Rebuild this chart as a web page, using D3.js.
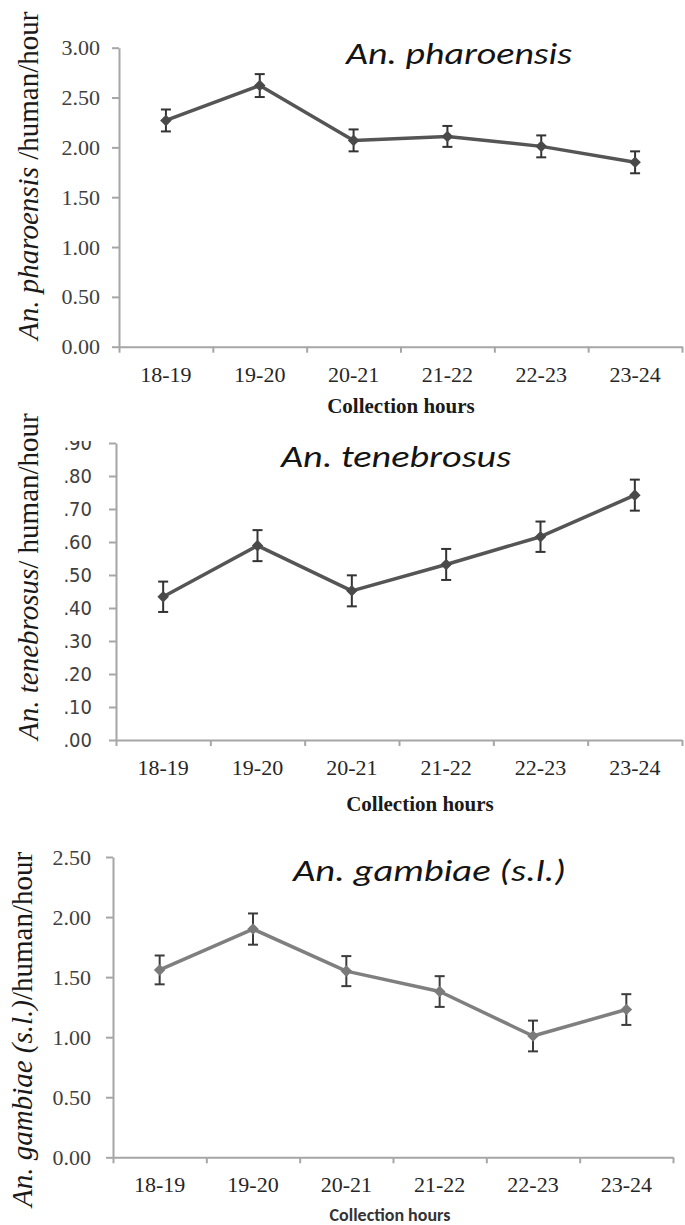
<!DOCTYPE html>
<html><head><meta charset="utf-8">
<script src="https://cdn.jsdelivr.net/npm/d3@7"></script>
<style>html,body{margin:0;padding:0;background:#fff;} svg{display:block}</style>
</head><body>
<svg id="chart" width="685" height="1225"></svg>
<script>
// ---------- data ----------
const categories = ["18-19", "19-20", "20-21", "21-22", "22-23", "23-24"];

const pharoensisMean = [2.27, 2.62, 2.07, 2.11, 2.01, 1.85];
const pharoensisErr  = [0.11, 0.115, 0.11, 0.105, 0.11, 0.11];
const pharoensisTicks = [0, 0.5, 1.0, 1.5, 2.0, 2.5, 3.0];
const pharoensisTickLabels = ["0.00", "0.50", "1.00", "1.50", "2.00", "2.50", "3.00"];

const tenebrosusMean = [0.434, 0.589, 0.452, 0.532, 0.616, 0.742];
const tenebrosusErr  = [0.046, 0.047, 0.047, 0.047, 0.046, 0.047];
const tenebrosusTicks = [0, 0.1, 0.2, 0.3, 0.4, 0.5, 0.6, 0.7, 0.8, 0.9];
const tenebrosusTickLabels = [".00", ".10", ".20", ".30", ".40", ".50", ".60", ".70", ".80", ".90"];

const gambiaeMean = [1.56, 1.90, 1.55, 1.38, 1.01, 1.23];
const gambiaeErr  = [0.12, 0.13, 0.125, 0.128, 0.128, 0.128];
const gambiaeTicks = [0, 0.5, 1.0, 1.5, 2.0, 2.5];
const gambiaeTickLabels = ["0.00", "0.50", "1.00", "1.50", "2.00", "2.50"];

const titles = ["An. pharoensis", "An. tenebrosus", "An. gambiae (s.l.)"];
const yLabelItalic = ["An. pharoensis", "An. tenebrosus", "An. gambiae (s.l.)"];
const yLabelRest = [" /human/hour", "/ human/hour", "/human/hour"];
const xTitle = "Collection hours";

// ---------- drawing ----------
const svg = d3.select("#chart");
const SERIF = '"Liberation Serif", serif';
const CALIBRI = '"Carlito", "Lato", sans-serif';
const TAHOMA = '"DejaVu Sans Condensed", "DejaVu Sans", sans-serif';

svg.append("defs").append("clipPath").attr("id", "clipTen")
  .append("rect").attr("x", 0).attr("y", 441).attr("width", 685).attr("height", 800);

function drawPanel(o) {
  const g = svg.append("g");
  const y = d3.scaleLinear().domain([0, o.yMax]).range([o.bottom, o.top]);
  const xb = d3.scaleLinear().domain([0, categories.length]).range([o.left, o.right]);
  const band = d3.scaleBand().domain(categories).range([o.left, o.right]);
  const cx = c => band(c) + band.bandwidth() / 2;

  // y axis
  const yWrap = g.append("g");
  if (o.clip) yWrap.attr("clip-path", "url(#clipTen)");
  const ya = yWrap.append("g").attr("transform", `translate(${o.left},0)`)
    .call(d3.axisLeft(y).tickValues(o.ticks).tickFormat((d, i) => o.tickLabels[i])
      .tickSize(7).tickSizeOuter(0).tickPadding(o.yPad));
  ya.attr("font-family", o.yFont).attr("font-size", o.yFontSize);
  ya.select(".domain").attr("stroke", "#a6a6a6").attr("stroke-width", 2);
  ya.selectAll(".tick line").attr("stroke", "#a6a6a6").attr("stroke-width", 2);
  ya.selectAll(".tick text").attr("fill", "#404040");

  // x axis
  const xa = g.append("g").attr("transform", `translate(0,${o.bottom})`)
    .call(d3.axisBottom(xb).tickValues(d3.range(categories.length + 1)).tickFormat("")
      .tickSize(6).tickSizeOuter(0));
  xa.select(".domain").attr("stroke", "#a6a6a6").attr("stroke-width", 2);
  xa.selectAll(".tick line").attr("stroke", "#a6a6a6").attr("stroke-width", 2);

  g.append("g").attr("font-family", SERIF).attr("font-size", 22)
    .selectAll("text").data(categories).join("text")
    .attr("x", d => cx(d)).attr("y", o.bottom + 35)
    .attr("text-anchor", "middle").attr("fill", "#262626").text(d => d);

  // x title
  g.append("text").attr("x", o.xTitleX).attr("y", o.xTitleY).attr("text-anchor", "middle")
    .attr("font-family", o.xTitleFont).attr("font-size", o.xTitleSize).attr("font-weight", "bold")
    .attr("fill", o.xTitleColor).text(xTitle);

  // y label
  const yl = g.append("text")
    .attr("transform", `translate(${o.yLabelX},${o.yLabelY}) rotate(-90)`)
    .attr("font-family", SERIF).attr("font-size", 29).attr("fill", "#1a1a1a");
  yl.append("tspan").attr("font-style", "italic").text(yLabelItalic[o.idx]);
  yl.append("tspan").text(yLabelRest[o.idx]);

  // title
  g.append("text").attr("x", o.titleX).attr("y", o.titleY)
    .attr("font-family", CALIBRI).attr("font-style", "italic").attr("font-size", 31)
    .attr("fill", "#141414").attr("textLength", o.titleW).attr("lengthAdjust", "spacingAndGlyphs")
    .text(titles[o.idx]);

  const pts = categories.map((c, i) => ({ c, m: o.mean[i], e: o.err[i] }));

  // line
  g.append("path").datum(pts)
    .attr("d", d3.line().x(d => cx(d.c)).y(d => y(d.m)))
    .attr("fill", "none").attr("stroke", o.lineColor).attr("stroke-width", 3.5)
    .attr("stroke-linejoin", "round");

  // error bars
  const eb = g.append("g").attr("stroke", o.errColor).attr("stroke-width", 2);
  eb.selectAll("line.v").data(pts).join("line").attr("class", "v")
    .attr("x1", d => cx(d.c)).attr("x2", d => cx(d.c))
    .attr("y1", d => y(d.m - d.e)).attr("y2", d => y(d.m + d.e));
  eb.selectAll("line.t").data(pts).join("line").attr("class", "t")
    .attr("x1", d => cx(d.c) - 5).attr("x2", d => cx(d.c) + 5)
    .attr("y1", d => y(d.m + d.e)).attr("y2", d => y(d.m + d.e));
  eb.selectAll("line.b").data(pts).join("line").attr("class", "b")
    .attr("x1", d => cx(d.c) - 5).attr("x2", d => cx(d.c) + 5)
    .attr("y1", d => y(d.m - d.e)).attr("y2", d => y(d.m - d.e));

  // markers
  g.append("g").selectAll("path").data(pts).join("path")
    .attr("transform", d => `translate(${cx(d.c)},${y(d.m)})`)
    .attr("d", d3.symbol().type(d3.symbolDiamond2).size(85))
    .attr("fill", o.markColor);
}

drawPanel({
  idx: 0, mean: pharoensisMean, err: pharoensisErr, ticks: pharoensisTicks, tickLabels: pharoensisTickLabels,
  yMax: 3.0, left: 119, right: 682, top: 47.7, bottom: 346.7,
  yFont: SERIF, yFontSize: 22, yPad: 12,
  xTitleX: 401, xTitleY: 413, xTitleFont: SERIF, xTitleSize: 21, xTitleColor: "#1a1a1a",
  yLabelX: 38, yLabelY: 340,
  titleX: 346, titleY: 64, titleW: 226,
  lineColor: "#555555", errColor: "#333333", markColor: "#4a4a4a"
});

drawPanel({
  idx: 1, mean: tenebrosusMean, err: tenebrosusErr, ticks: tenebrosusTicks, tickLabels: tenebrosusTickLabels,
  yMax: 0.9, left: 116, right: 682, top: 443, bottom: 740, clip: true,
  yFont: TAHOMA, yFontSize: 20, yPad: 17,
  xTitleX: 420, xTitleY: 811, xTitleFont: SERIF, xTitleSize: 21, xTitleColor: "#1a1a1a",
  yLabelX: 38, yLabelY: 740,
  titleX: 281, titleY: 467, titleW: 230,
  lineColor: "#555555", errColor: "#333333", markColor: "#4a4a4a"
});

drawPanel({
  idx: 2, mean: gambiaeMean, err: gambiaeErr, ticks: gambiaeTicks, tickLabels: gambiaeTickLabels,
  yMax: 2.5, left: 113, right: 673, top: 857, bottom: 1157.3,
  yFont: SERIF, yFontSize: 22, yPad: 15,
  xTitleX: 390, xTitleY: 1221, xTitleFont: CALIBRI, xTitleSize: 18, xTitleColor: "#333333",
  yLabelX: 32, yLabelY: 1207,
  titleX: 293, titleY: 881, titleW: 273,
  lineColor: "#7f7f7f", errColor: "#3c3c3c", markColor: "#7a7a7a"
});
</script>
</body></html>
